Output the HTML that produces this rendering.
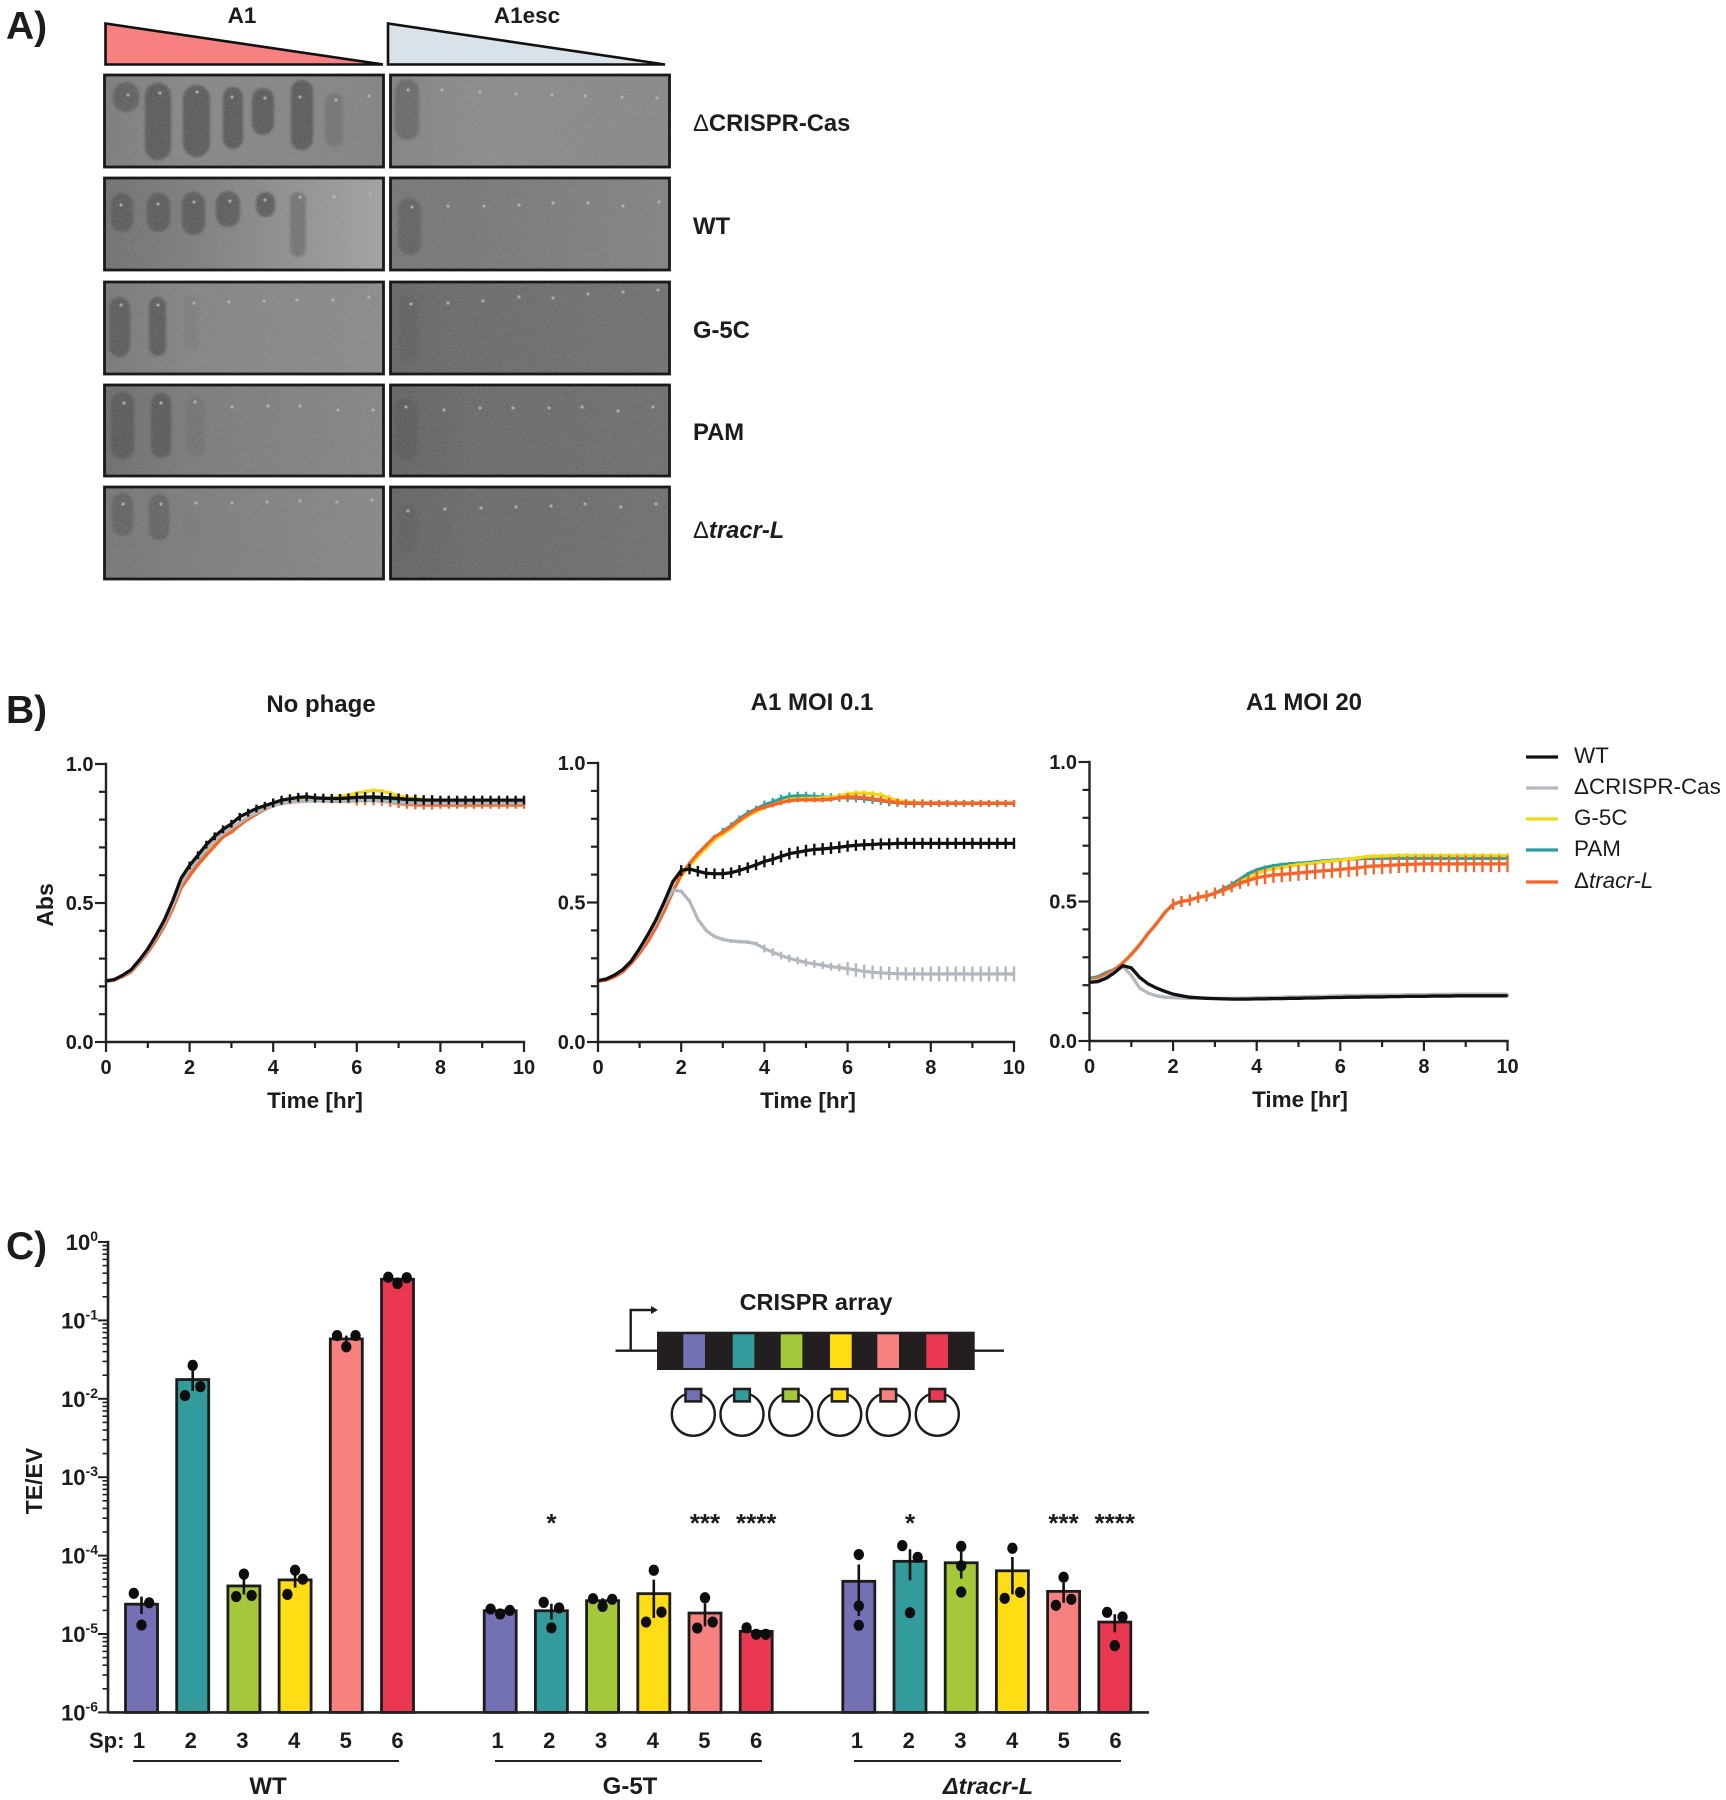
<!DOCTYPE html>
<html lang="en">
<head>
<meta charset="utf-8">
<title>Phage plaque assays, growth curves and transformation efficiency</title>
<style>
html,body{margin:0;padding:0;background:#fff;}
svg{display:block;font-family:"Liberation Sans",Arial,sans-serif;}
text{fill:#1c1c1c;}
.b{font-weight:bold;}
</style>
</head>
<body>
<svg id="figure" xmlns="http://www.w3.org/2000/svg" width="1726" height="1800" viewBox="0 0 1726 1800">
  <defs>
    <filter id="soft" x="-30%" y="-30%" width="160%" height="160%"><feGaussianBlur stdDeviation="1.3"/></filter>
    <filter id="softer" x="-30%" y="-30%" width="160%" height="160%"><feGaussianBlur stdDeviation="0.6"/></filter>
    <filter id="grain" x="0" y="0" width="100%" height="100%">
      <feTurbulence type="fractalNoise" baseFrequency="0.55" numOctaves="2" seed="7"/>
      <feColorMatrix type="matrix" values="0 0 0 0 0.5  0 0 0 0 0.5  0 0 0 0 0.5  1.1 0 0 0 -0.42"/>
    </filter>
  </defs>

  <text class="b" x="6" y="39" font-size="39">A)</text>
  <text class="b" x="6" y="723" font-size="39">B)</text>
  <text class="b" x="6" y="1259" font-size="39">C)</text>

  <text class="b" x="242" y="23" font-size="22.5" text-anchor="middle">A1</text>
  <text class="b" x="527" y="23" font-size="22.5" text-anchor="middle">A1esc</text>
  <polygon points="105.5,23.5 105.5,64.5 383,64.5" fill="#f98080" stroke="#111" stroke-width="2.6"/>
  <polygon points="388,23.5 388,64.5 665,64.5" fill="#d9e2e8" stroke="#111" stroke-width="2.6"/>

  <g id="plates"></g>

  <text class="b" x="693" y="131" font-size="23.8"><tspan font-weight="normal">Δ</tspan>CRISPR-Cas</text>
  <text class="b" x="693" y="234" font-size="23.8">WT</text>
  <text class="b" x="693" y="338" font-size="23.8">G-5C</text>
  <text class="b" x="693" y="440" font-size="23.8">PAM</text>
  <text class="b" x="693" y="538" font-size="23.8"><tspan font-weight="normal">Δ</tspan><tspan font-style="italic">tracr-L</tspan></text>

  <g id="growth-charts"></g>

  <g id="legend">
    <line x1="1526" x2="1558" y1="757" y2="757" stroke="#111" stroke-width="3.2"/>
    <text x="1574" y="763" font-size="22.4">WT</text>
    <line x1="1526" x2="1558" y1="788" y2="788" stroke="#b2b8bf" stroke-width="3.2"/>
    <text x="1574" y="794" font-size="22.4">ΔCRISPR-Cas</text>
    <line x1="1526" x2="1558" y1="819" y2="819" stroke="#efd915" stroke-width="3.2"/>
    <text x="1574" y="825" font-size="22.4">G-5C</text>
    <line x1="1526" x2="1558" y1="850" y2="850" stroke="#2a9d9c" stroke-width="3.2"/>
    <text x="1574" y="856" font-size="22.4">PAM</text>
    <line x1="1526" x2="1558" y1="882" y2="882" stroke="#f5652b" stroke-width="3.2"/>
    <text x="1574" y="888" font-size="22.4">Δ<tspan font-style="italic">tracr-L</tspan></text>
  </g>

  <g id="bar-chart"></g>

  <g id="array-schematic">
    <text class="b" x="816" y="1310" font-size="23.5" text-anchor="middle">CRISPR array</text>
    <line x1="615.5" x2="657" y1="1350.7" y2="1350.7" stroke="#1c1c1c" stroke-width="2.4"/>
    <line x1="974" x2="1004" y1="1350.7" y2="1350.7" stroke="#1c1c1c" stroke-width="2.4"/>
    <polyline points="630.7,1350.7 630.7,1310 652,1310" fill="none" stroke="#1c1c1c" stroke-width="2.4"/>
    <polygon points="651,1306 658,1310 651,1314" fill="#1c1c1c"/>
    <rect x="657" y="1331.7" width="317.7" height="38.3" fill="#231f20"/>
    <rect x="683.3" y="1334.3" width="21.7" height="33.7" fill="#7370b5"/>
    <rect x="732.7" y="1334.3" width="21.7" height="33.7" fill="#339b9b"/>
    <rect x="780.7" y="1334.3" width="21.7" height="33.7" fill="#a5c83a"/>
    <rect x="830" y="1334.3" width="21.7" height="33.7" fill="#ffdd15"/>
    <rect x="877.3" y="1334.3" width="21.7" height="33.7" fill="#f7817f"/>
    <rect x="926.3" y="1334.3" width="21.7" height="33.7" fill="#ea3852"/>
    <g fill="#fff" stroke="#1c1c1c" stroke-width="2.4">
      <circle cx="693.3" cy="1414.3" r="21.5"/>
      <circle cx="742" cy="1414.3" r="21.5"/>
      <circle cx="790.7" cy="1414.3" r="21.5"/>
      <circle cx="839.7" cy="1414.3" r="21.5"/>
      <circle cx="888.3" cy="1414.3" r="21.5"/>
      <circle cx="937.3" cy="1414.3" r="21.5"/>
    </g>
    <g stroke="#231f20" stroke-width="2.6">
      <rect x="685.5" y="1389" width="15.6" height="12.4" fill="#7370b5"/>
      <rect x="734.2" y="1389" width="15.6" height="12.4" fill="#339b9b"/>
      <rect x="782.9" y="1389" width="15.6" height="12.4" fill="#a5c83a"/>
      <rect x="831.9" y="1389" width="15.6" height="12.4" fill="#ffdd15"/>
      <rect x="880.5" y="1389" width="15.6" height="12.4" fill="#f7817f"/>
      <rect x="929.5" y="1389" width="15.6" height="12.4" fill="#ea3852"/>
    </g>
  </g>
</svg>

<script>
// ---------- Panel B data: absorbance readings every 0.2 hr ----------
const timeHours = [0,0.2,0.4,0.6,0.8,1,1.2,1.4,1.6,1.8,2,2.2,2.4,2.6,2.8,3,3.2,3.4,3.6,3.8,4,4.2,4.4,4.6,4.8,5,5.2,5.4,5.6,5.8,6,6.2,6.4,6.6,6.8,7,7.2,7.4,7.6,7.8,8,8.2,8.4,8.6,8.8,9,9.2,9.4,9.6,9.8,10];
const seriesNames = ['PAM','G-5C','tracr-L','CRISPR-Cas','WT'];
const seriesColors = ['#2a9d9c','#efd915','#f5652b','#b2b8bf','#111111'];
const errorColors = ['#1fb4b4','#efd915','#f5652b','#b2b8bf','#111111'];

const noPhagePam = [.22,.224,.237,.255,.287,.325,.37,.42,.485,.555,
  .6,.64,.675,.71,.74,.76,.785,.805,.825,.84,
  .852,.862,.868,.873,.876,.875,.875,.875,.875,.875,
  .875,.876,.876,.875,.873,.87,.866,.865,.865,.865,
  .865,.865,.865,.865,.865,.865,.865,.865,.865,.865,.865];
const noPhageG5c = [.22,.224,.237,.255,.287,.325,.37,.42,.485,.555,
  .598,.638,.672,.71,.74,.76,.785,.805,.825,.84,
  .85,.86,.865,.87,.874,.875,.876,.878,.882,.888,
  .895,.9,.905,.902,.895,.885,.88,.875,.873,.87,
  .87,.87,.87,.87,.87,.87,.87,.87,.87,.87,.87];
const noPhageTracr = [.218,.222,.235,.252,.285,.322,.367,.418,.48,.555,
  .598,.638,.672,.705,.738,.755,.78,.802,.82,.837,
  .85,.858,.862,.865,.867,.867,.867,.866,.866,.866,
  .867,.868,.868,.866,.862,.858,.855,.853,.852,.852,
  .852,.852,.852,.852,.852,.852,.852,.852,.852,.852,.852];
const noPhageCrispr = [.22,.224,.238,.257,.29,.33,.378,.43,.495,.57,
  .62,.658,.695,.725,.75,.77,.79,.81,.825,.84,
  .85,.858,.863,.866,.868,.868,.868,.868,.868,.868,
  .868,.868,.868,.866,.864,.862,.86,.86,.86,.86,
  .86,.86,.86,.86,.86,.86,.86,.86,.86,.86,.86];
const noPhageWt = [.22,.225,.24,.26,.295,.335,.385,.44,.51,.59,
  .635,.672,.71,.74,.765,.785,.81,.825,.84,.85,
  .86,.87,.875,.88,.882,.878,.877,.876,.876,.878,
  .88,.881,.881,.88,.878,.876,.873,.872,.87,.87,
  .87,.87,.87,.87,.87,.87,.87,.87,.87,.87,.87];

const moiLowPam = [.22,.224,.236,.254,.285,.322,.365,.415,.475,.54,
  .6,.635,.67,.7,.73,.755,.775,.8,.82,.835,
  .85,.86,.872,.88,.882,.882,.88,.878,.877,.876,
  .875,.874,.872,.868,.865,.86,.858,.855,.855,.855,
  .855,.855,.855,.855,.855,.855,.855,.855,.855,.855,.855];
const moiLowG5c = [.22,.224,.236,.254,.285,.322,.365,.415,.475,.54,
  .595,.63,.665,.695,.725,.745,.765,.79,.81,.825,
  .84,.85,.86,.87,.872,.873,.873,.875,.877,.882,
  .888,.892,.892,.89,.885,.875,.865,.86,.858,.857,
  .857,.857,.857,.857,.857,.857,.857,.857,.857,.857,.857];
const moiLowTracr = [.218,.222,.234,.252,.282,.318,.36,.412,.472,.54,
  .6,.64,.675,.705,.735,.752,.772,.795,.815,.832,
  .842,.85,.858,.865,.868,.868,.868,.868,.87,.875,
  .878,.878,.876,.872,.868,.862,.858,.857,.856,.856,
  .856,.856,.856,.856,.856,.856,.856,.856,.856,.856,.856];
const moiLowCrispr = [.22,.226,.24,.26,.29,.33,.38,.43,.495,.545,
  .54,.505,.44,.4,.378,.368,.362,.36,.358,.352,
  .335,.322,.31,.3,.292,.285,.28,.275,.27,.267,
  .263,.258,.253,.25,.248,.246,.245,.244,.244,.244,
  .244,.244,.244,.244,.244,.244,.244,.244,.244,.244,.244];
const moiLowWt = [.22,.226,.24,.26,.29,.335,.385,.44,.505,.575,
  .615,.62,.612,.605,.603,.603,.607,.615,.625,.635,
  .647,.655,.665,.675,.68,.686,.69,.692,.695,.698,
  .702,.705,.707,.708,.71,.71,.712,.712,.712,.712,
  .712,.712,.712,.712,.712,.712,.712,.712,.712,.712,.712];

const moiHighPam = [.225,.23,.245,.257,.28,.31,.345,.385,.42,.46,
  .49,.5,.505,.515,.52,.53,.545,.56,.58,.6,
  .613,.622,.628,.632,.635,.637,.639,.642,.645,.647,
  .65,.652,.653,.654,.654,.655,.655,.655,.655,.655,
  .655,.655,.655,.655,.655,.655,.655,.655,.655,.655,.655];
const moiHighG5c = [.22,.225,.24,.255,.28,.31,.345,.385,.42,.46,
  .49,.5,.505,.515,.52,.53,.54,.55,.57,.585,
  .6,.61,.618,.622,.627,.632,.635,.638,.642,.645,
  .648,.652,.656,.66,.662,.663,.664,.665,.665,.665,
  .665,.665,.665,.665,.665,.665,.665,.665,.665,.665,.665];
const moiHighTracr = [.22,.225,.24,.255,.28,.31,.345,.385,.42,.46,
  .49,.5,.505,.515,.52,.53,.54,.553,.565,.575,
  .585,.59,.595,.597,.6,.602,.605,.608,.61,.612,
  .615,.618,.62,.625,.627,.628,.63,.632,.633,.634,
  .635,.635,.635,.635,.635,.635,.635,.635,.635,.635,.635];
const moiHighCrispr = [.215,.218,.23,.248,.268,.235,.19,.172,.162,.157,
  .155,.154,.153,.153,.153,.153,.153,.153,.153,.154,
  .155,.156,.156,.157,.158,.158,.159,.16,.16,.161,
  .162,.163,.163,.164,.164,.165,.165,.165,.166,.166,
  .166,.167,.167,.167,.168,.168,.168,.168,.168,.168,.168];
const moiHighWt = [.21,.213,.225,.245,.27,.262,.228,.205,.19,.178,
  .168,.162,.157,.155,.153,.152,.151,.15,.15,.15,
  .151,.151,.152,.152,.153,.153,.154,.154,.155,.156,
  .156,.157,.157,.158,.158,.158,.159,.159,.16,.16,
  .16,.161,.161,.161,.162,.162,.162,.162,.162,.162,.162];

// SEM per 2-hour window (0-2, 2-4, 4-6, 6-8, 8-10 hr)
const noPhageErrPam = [.002,.008,.009,.011,.011];
const noPhageErrG5c = [.002,.006,.007,.008,.006];
const noPhageErrTracr = [.002,.006,.007,.016,.013];
const noPhageErrCrispr = [.002,.006,.006,.008,.008];
const noPhageErrWt = [.003,.014,.016,.018,.016];
const moiLowErrPam = [.002,.012,.015,.015,.013];
const moiLowErrG5c = [.002,.006,.006,.01,.006];
const moiLowErrTracr = [.002,.006,.009,.013,.011];
const moiLowErrCrispr = [.002,.007,.014,.024,.027];
const moiLowErrWt = [.004,.019,.021,.02,.02];
const moiHighErrPam = [.006,.006,.007,.005,.005];
const moiHighErrG5c = [.003,.005,.007,.008,.008];
const moiHighErrTracr = [.003,.02,.028,.03,.03];
const moiHighErrCrispr = [.001,.002,.003,.004,.004];
const moiHighErrWt = [.001,.001,.002,.002,.002];

const abilityTicks = [0,0.1,0.2,0.3,0.4,0.5,0.6,0.7,0.8,0.9,1];
const absLabels = ['0.0','0.5','1.0'];
const hourTicks = [0,1,2,3,4,5,6,7,8,9,10];
const hourLabels = ['0','2','4','6','8','10'];

// ---------- Panel C data ----------
const spacerLabels = ['1','2','3','4','5','6'];
const spacerColors = ['#7370b5','#339b9b','#a5c83a','#ffdd15','#f7817f','#ea3852'];
const decadeExponents = [0,-1,-2,-3,-4,-5,-6];

const wtMeans = [2.4e-5,1.76e-2,4.1e-5,4.9e-5,5.8e-2,0.335];
const wtSem = [0.6e-5,5e-3,0.9e-5,1e-5,0.6e-2,0.018];
const wtReplicates = [[3.3e-5,2.5e-5,1.3e-5],[2.67e-2,1.43e-2,1.1e-2],[5.8e-5,3e-5,3.1e-5],[6.5e-5,5e-5,3.2e-5],[6.4e-2,6.4e-2,4.6e-2],[0.355,0.35,0.295]];
const wtDotSlots = [[-1,1,0],[0,1,-1],[0,-1,1],[0,1,-1],[-1.2,1.2,0],[-1.2,1.2,0]];

const g5tMeans = [1.98e-5,1.98e-5,2.66e-5,3.27e-5,1.85e-5,1.08e-5];
const g5tSem = [0.1e-5,0.45e-5,0.2e-5,1.67e-5,0.6e-5,0.08e-5];
const g5tReplicates = [[2.08e-5,1.8e-5,2e-5],[2.53e-5,2.15e-5,1.2e-5],[2.82e-5,2.77e-5,2.25e-5],[6.5e-5,1.9e-5,1.42e-5],[2.9e-5,1.42e-5,1.19e-5],[1.2e-5,0.99e-5,0.99e-5]];
const g5tDotSlots = [[-1.25,0,1.25],[-1,1,0],[-1.25,1.25,0],[0,1,-1],[0,1,-1],[-1.25,0,1.25]];
const g5tStars = ['','*','','','***','****'];

const tracrMeans = [4.7e-5,8.45e-5,8.1e-5,6.4e-5,3.5e-5,1.42e-5];
const tracrSem = [3e-5,3.6e-5,3e-5,3.2e-5,1e-5,0.37e-5];
const tracrReplicates = [[1.03e-4,2.28e-5,1.29e-5],[1.34e-4,9.5e-5,1.87e-5],[1.31e-4,7.4e-5,3.43e-5],[1.24e-4,3.4e-5,2.85e-5],[5.3e-5,2.77e-5,2.32e-5],[1.89e-5,1.65e-5,7.1e-6]];
const tracrDotSlots = [[0,0,0],[-1,1,0],[0,0,0],[0,1,-1],[0,1,-1],[-1,1,0]];
const tracrStars = ['','*','','','***','****'];

// ---------- Panel A photo description ----------
const plateBackgrounds = [
  ['#7d7d7d','#888888','#848484'],['#848484','#8c8c8c','#898989'],
  ['#727272','#7e7e7e','#a2a2a2'],['#777777','#797979','#848484'],
  ['#7a7a7a','#858585','#8c8c8c'],['#686868','#6d6d6d','#727272'],
  ['#6e6e6e','#7c7c7c','#868686'],['#656565','#6c6c6c','#707070'],
  ['#777777','#7e7e7e','#888888'],['#666666','#6c6c6c','#717171']
];
const plateTops = [75,178,282,385,487];
const plateHeights = [92,92,92,91,92];
const plaqueRects = [
  [[113,82,26,30,.8],[145,83,26,77,.95],[183,85,27,72,.95],[223,87,20,62,.95],[252,88,22,47,.95],[291,80,22,70,.95],[325,93,18,54,.35]],
  [[395,79,24,61,.6]],
  [[111,193,22,39,.9],[147,193,23,39,.9],[182,192,23,43,.9],[216,191,24,36,.9],[256,192,19,25,.9],[290,192,16,65,.5]],
  [[398,198,23,57,.65]],
  [[109,297,21,60,.9],[149,297,17,59,.9],[184,295,15,55,.12]],
  [[399,297,19,66,.4]],
  [[111,392,23,67,.95],[151,393,20,65,.95],[186,396,19,61,.2]],
  [[394,398,23,62,.7],[434,408,16,36,.1]],
  [[112,493,21,43,.65],[149,494,20,46,.65],[184,510,15,33,.08]],
  [[399,505,18,48,.4],[436,517,14,20,.15]]
];
const spotRows = [
  [[128,95],[160,93],[197,92],[232,97],[265,98],[300,97],[336,100],[369,96]],
  [[408,90],[442,90],[480,92],[516,94],[552,95],[585,96],[622,97],[657,98]],
  [[121,205],[158,204],[194,202],[230,201],[265,200],[300,197],[334,197],[370,194]],
  [[412,207],[448,206],[484,206],[519,205],[553,203],[588,203],[623,206],[659,202]],
  [[121,305],[158,305],[194,303],[229,302],[264,301],[297,300],[333,300],[369,297]],
  [[411,304],[448,303],[483,301],[519,297],[553,298],[588,294],[623,292],[658,290]],
  [[124,403],[161,403],[195,402],[232,407],[268,406],[300,406],[338,410],[373,410]],
  [[406,407],[444,410],[480,408],[513,408],[549,408],[582,407],[618,411],[653,407]],
  [[123,504],[161,504],[196,503],[232,503],[267,502],[300,501],[337,502],[372,500]],
  [[408,511],[445,509],[481,508],[516,507],[551,506],[585,504],[621,507],[656,504]]
];

const NS = 'http://www.w3.org/2000/svg';
function make(tag, attrs, parent) {
  const node = document.createElementNS(NS, tag);
  for (const key in attrs) node.setAttribute(key, attrs[key]);
  parent.appendChild(node);
  return node;
}

// ---------- Draw plates ----------
const platesGroup = document.getElementById('plates');
const defsNode = document.querySelector('defs');
plateBackgrounds.forEach(function (stops, i) {
  const row = Math.floor(i / 2);
  const col = i % 2;
  const left = col === 0 ? 105 : 391;
  const width = 278;
  const top = plateTops[row];
  const height = plateHeights[row];
  const grad = make('linearGradient', {id: 'plate-grad-' + i, x1: 0, x2: 1, y1: 0, y2: 0}, defsNode);
  make('stop', {offset: 0, 'stop-color': stops[0]}, grad);
  make('stop', {offset: 0.3, 'stop-color': stops[1]}, grad);
  make('stop', {offset: 1, 'stop-color': stops[2]}, grad);
  const clip = make('clipPath', {id: 'plate-clip-' + i}, defsNode);
  make('rect', {x: left, y: top, width: width, height: height}, clip);

  const plate = make('g', {'clip-path': 'url(#plate-clip-' + i + ')'}, platesGroup);
  
  
  make('rect', {x: left, y: top, width: width, height: height, fill: 'url(#plate-grad-' + i + ')'}, plate);

  plaqueRects[i].forEach(function (p) {
    const plaque = make('rect', {x: p[0], y: p[1], width: p[2], height: p[3], rx: p[2] / 2, ry: p[2] / 2, fill: '#5c5c5c', opacity: p[4], filter: 'url(#soft)'}, plate);
    
    
  });
  spotRows[i].forEach(function (s) {
    const spot = make('circle', {cx: s[0], cy: s[1], r: 1.5, fill: '#b8b8b8', filter: 'url(#softer)'}, plate);
    
    
  });
  make('rect', {x: left, y: top, width: width, height: height, filter: 'url(#grain)', opacity: 0.35}, plate);
  const frame = make('rect', {x: left - 0.5, y: top, width: width + 1, height: height, fill: 'none', stroke: '#1a1a1a', 'stroke-width': 2.8}, platesGroup);
  
  
});

// ---------- Growth charts ----------
const growthPanels = [
  {key: 'no-phage', title: 'No phage', titleX: 321, titleY: 712, x0: 106, x1: 524, yTop: 764, yBottom: 1042, timeX: 315, showY: true,
   series: [noPhagePam, noPhageG5c, noPhageTracr, noPhageCrispr, noPhageWt],
   errors: [noPhageErrPam, noPhageErrG5c, noPhageErrTracr, noPhageErrCrispr, noPhageErrWt]},
  {key: 'moi-0-1', title: 'A1 MOI 0.1', titleX: 812, titleY: 710, x0: 598, x1: 1014, yTop: 763, yBottom: 1042, timeX: 808, showY: false,
   series: [moiLowPam, moiLowG5c, moiLowTracr, moiLowCrispr, moiLowWt],
   errors: [moiLowErrPam, moiLowErrG5c, moiLowErrTracr, moiLowErrCrispr, moiLowErrWt]},
  {key: 'moi-20', title: 'A1 MOI 20', titleX: 1304, titleY: 710, x0: 1089.5, x1: 1507.5, yTop: 762, yBottom: 1041, timeX: 1300, showY: false,
   series: [moiHighPam, moiHighG5c, moiHighTracr, moiHighCrispr, moiHighWt],
   errors: [moiHighErrPam, moiHighErrG5c, moiHighErrTracr, moiHighErrCrispr, moiHighErrWt]}
];

const growthRoot = document.getElementById('growth-charts');
growthPanels.forEach(function (panel) {
  const xScale = function (t) { return panel.x0 + (t / 10) * (panel.x1 - panel.x0); };
  const yScale = function (v) { return panel.yBottom - v * (panel.yBottom - panel.yTop); };
  const g = make('g', {}, growthRoot);
  
  

  const title = make('text', {x: panel.titleX, y: panel.titleY, 'font-size': 24, 'font-weight': 'bold', 'text-anchor': 'middle'}, g);
  title.textContent = panel.title;
  
  

  panel.series.forEach(function (values, s) {
    const err = panel.errors[s];
    values.forEach(function (v, k) {
      const t = timeHours[k];
      const e = err[Math.min(Math.floor(t / 2), 4)];
      const bar = make('line', {x1: xScale(t), x2: xScale(t), y1: yScale(v - e), y2: yScale(v + e), stroke: errorColors[s], 'stroke-width': 2.4}, g);
      
      
    });
    const pts = values.map(function (v, k) { return xScale(timeHours[k]).toFixed(2) + ',' + yScale(v).toFixed(2); }).join(' ');
    const line = make('polyline', {points: pts, fill: 'none', stroke: seriesColors[s], 'stroke-width': 3.3, 'stroke-linejoin': 'round'}, g);
    
    
  });

  const yAxis = make('line', {x1: panel.x0, x2: panel.x0, y1: panel.yTop - 1.2, y2: panel.yBottom + 1.2, stroke: '#222', 'stroke-width': 2.4}, g);
  
  
  const xAxis = make('line', {x1: panel.x0, x2: panel.x1 + 1.2, y1: panel.yBottom, y2: panel.yBottom, stroke: '#222', 'stroke-width': 2.4}, g);
  
  

  abilityTicks.forEach(function (v, k) {
    const major = k % 5 === 0;
    const tick = make('line', {x1: panel.x0 - (major ? 11 : 7), x2: panel.x0, y1: yScale(v), y2: yScale(v), stroke: '#222', 'stroke-width': 2.2}, g);
    
    
    if (major) {
      const label = make('text', {x: panel.x0 - 12.5, y: yScale(v) + 7, 'font-size': 20, 'font-weight': 'bold', 'text-anchor': 'end'}, g);
      label.textContent = absLabels[k / 5];
      
      
    }
  });
  hourTicks.forEach(function (t, k) {
    const major = k % 2 === 0;
    const tick = make('line', {x1: xScale(t), x2: xScale(t), y1: panel.yBottom, y2: panel.yBottom + (major ? 10 : 6), stroke: '#222', 'stroke-width': 2.2}, g);
    
    
    if (major) {
      const label = make('text', {x: xScale(t), y: panel.yBottom + 32, 'font-size': 20, 'font-weight': 'bold', 'text-anchor': 'middle'}, g);
      label.textContent = hourLabels[k / 2];
      
      
    }
  });

  const xTitle = make('text', {x: panel.timeX, y: panel.yBottom + 66, 'font-size': 22.5, 'font-weight': 'bold', 'text-anchor': 'middle'}, g);
  xTitle.textContent = 'Time [hr]';
  
  

  if (panel.showY) {
    const yTitle = make('text', {x: 0, y: 0, 'font-size': 23, 'font-weight': 'bold', 'text-anchor': 'middle', transform: 'translate(53,905) rotate(-90)'}, g);
    yTitle.textContent = 'Abs';
    
    
  }
});

// ---------- Bar chart ----------
const barRoot = document.getElementById('bar-chart');
const axisX = 108;
const baseY = 1712.4;
const decadePx = 78.4;
const logY = function (v) { return baseY - (Math.log10(v) + 6) * decadePx; };
const barGroups = [
  {key: 'wt', start: 141.5, means: wtMeans, sem: wtSem, reps: wtReplicates, slots: wtDotSlots, stars: null, labelStart: 139, lineFrom: 133, lineTo: 399, nameX: 268},
  {key: 'g-5t', start: 500.2, means: g5tMeans, sem: g5tSem, reps: g5tReplicates, slots: g5tDotSlots, stars: g5tStars, labelStart: 497.6, lineFrom: 495, lineTo: 762, nameX: 630},
  {key: 'tracr-l', start: 858.8, means: tracrMeans, sem: tracrSem, reps: tracrReplicates, slots: tracrDotSlots, stars: tracrStars, labelStart: 857, lineFrom: 854, lineTo: 1121, nameX: 988}
];
barGroups.forEach(function (group) {
  const g = make('g', {}, barRoot);
  
  
  group.means.forEach(function (mean, i) {
    const cx = group.start + i * 51.2;
    const bar = make('rect', {x: cx - 16, y: logY(mean), width: 32, height: baseY - logY(mean), fill: spacerColors[i], stroke: '#1c1c1c', 'stroke-width': 2.8}, g);
    
    
    const up = logY(mean + group.sem[i]);
    const down = logY(Math.max(mean - group.sem[i], 1e-6));
    const whisker = make('line', {x1: cx, x2: cx, y1: up, y2: down, stroke: '#111', 'stroke-width': 2.6}, g);
    
    
    group.reps[i].forEach(function (v, k) {
      const dot = make('ellipse', {cx: cx + group.slots[i][k] * 7.7, cy: logY(v), rx: 5.2, ry: 5.6, fill: '#0d0d0d'}, g);
      
      
    });
    const num = make('text', {x: group.labelStart + i * 51.7, y: 1748, 'font-size': 22, 'font-weight': 'bold', 'text-anchor': 'middle'}, g);
    num.textContent = spacerLabels[i];
    
    
    if (group.stars && group.stars[i]) {
      const star = make('text', {x: cx, y: 1532, 'font-size': 26, 'font-weight': 'bold', 'text-anchor': 'middle'}, g);
      star.textContent = group.stars[i];
      
      
    }
  });
  const underline = make('line', {x1: group.lineFrom, x2: group.lineTo, y1: 1761, y2: 1761, stroke: '#222', 'stroke-width': 2}, g);
  
  
});

const groupWt = make('text', {x: 268, y: 1794, 'font-size': 24, 'font-weight': 'bold', 'text-anchor': 'middle'}, barRoot);
groupWt.textContent = 'WT';


const groupG5t = make('text', {x: 630, y: 1794, 'font-size': 24, 'font-weight': 'bold', 'text-anchor': 'middle'}, barRoot);
groupG5t.textContent = 'G-5T';


const groupTracr = make('text', {x: 988, y: 1794, 'font-size': 23.5, 'font-weight': 'bold', 'font-style': 'italic', 'text-anchor': 'middle'}, barRoot);
groupTracr.textContent = 'Δtracr-L';



const spPrefix = make('text', {x: 89, y: 1748, 'font-size': 22, 'font-weight': 'bold'}, barRoot);
spPrefix.textContent = 'Sp:';



const barYAxis = make('line', {x1: axisX, x2: axisX, y1: baseY - 6 * decadePx - 1.2, y2: baseY, stroke: '#222', 'stroke-width': 2.6}, barRoot);


const barXAxis = make('line', {x1: axisX, x2: 1149, y1: baseY, y2: baseY, stroke: '#222', 'stroke-width': 2.6}, barRoot);



decadeExponents.forEach(function (exp) {
  const v = Math.pow(10, exp);
  const major = make('line', {x1: axisX - 10, x2: axisX, y1: logY(v), y2: logY(v), stroke: '#222', 'stroke-width': 2}, barRoot);
  
  
  const label = make('text', {x: 98, y: logY(v) + 8, 'font-size': 22, 'font-weight': 'bold', 'text-anchor': 'end'}, barRoot);
  
  
  const base = make('tspan', {}, label);
  base.textContent = '10';
  const sup = make('tspan', {'font-size': 14, dy: -9}, label);
  sup.textContent = String(exp);
  if (exp > -6) {
    for (let m = 2; m < 10; m++) {
      const minor = make('line', {x1: axisX - 5.5, x2: axisX, y1: logY(m * v / 10), y2: logY(m * v / 10), stroke: '#222', 'stroke-width': 1.6}, barRoot);
      
      
    }
  }
});

const barYTitle = make('text', {x: 0, y: 0, 'font-size': 23, 'font-weight': 'bold', 'text-anchor': 'middle', transform: 'translate(42,1481) rotate(-90)'}, barRoot);
barYTitle.textContent = 'TE/EV';


</script>
</body>
</html>
